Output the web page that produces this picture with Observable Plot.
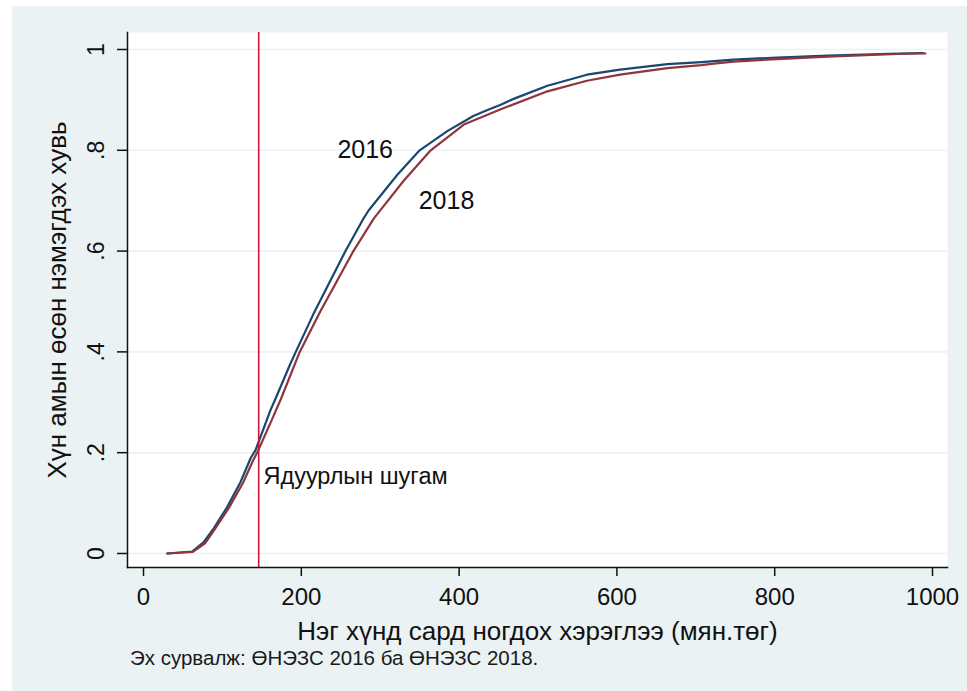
<!DOCTYPE html>
<html><head><meta charset="utf-8">
<script src="https://cdn.jsdelivr.net/npm/d3@7"></script>
<script src="https://cdn.jsdelivr.net/npm/@observablehq/plot@0.6"></script>
<style>
html,body{margin:0;padding:0;background:#fff;}
#panel{position:absolute;left:12px;top:6px;width:955px;height:685px;background:#eaf2f3;font-family:"Liberation Sans",Arial,sans-serif;}
#chart svg{display:block;}
#caption{padding-left:118px;font-size:20.5px;line-height:22px;color:#1a1a1a;white-space:nowrap;margin-top:-1px;}
</style></head><body>
<div id="panel"><div id="chart"></div><div id="caption"></div></div>
<script>
// Cumulative share of population by monthly consumption per person (thousand MNT)
const cons2016  = [30, 62, 76, 89, 106, 123, 136, 142, 161, 167, 186, 193, 215, 250, 256, 279, 285, 322, 350, 385, 418, 436, 452, 469, 512, 562, 604, 664, 707, 723, 748, 803, 867, 956, 988];
const share2016 = [0, 0.004, 0.022, 0.05, 0.092, 0.142, 0.19, 0.205, 0.285, 0.306, 0.376, 0.4, 0.474, 0.582, 0.6, 0.665, 0.68, 0.752, 0.8, 0.838, 0.868, 0.88, 0.89, 0.902, 0.928, 0.95, 0.96, 0.971, 0.975, 0.977, 0.98, 0.984, 0.988, 0.992, 0.993];
const cons2018  = [30, 62, 78, 91, 108, 126, 139, 144, 164, 174, 198, 224, 266, 292, 330, 364, 406, 452, 512, 562, 604, 664, 707, 723, 748, 803, 867, 956, 991];
const share2018 = [0, 0.003, 0.02, 0.05, 0.09, 0.14, 0.185, 0.2, 0.27, 0.306, 0.4, 0.48, 0.6, 0.665, 0.74, 0.8, 0.851, 0.881, 0.917, 0.938, 0.95, 0.963, 0.969, 0.972, 0.976, 0.981, 0.986, 0.991, 0.992];
const povertyLine = [146];
const seriesNames = ["2016", "2018"];
const seriesColors = ["#1a476f", "#90353b"];
const xTicks = [0, 200, 400, 600, 800, 1000];
const yTicks = [0, 0.2, 0.4, 0.6, 0.8, 1];
const yTickLabels = ["0", ".2", ".4", ".6", ".8", "1"];
const labelText = ["2016", "2018", "Ядуурлын шугам"];
const labelX = [281, 384, 152];
const labelY = [0.80, 0.70, 0.153];
const xTitle = "Нэг хүнд сард ногдох хэрэглээ (мян.төг)";
const yTitle = "Хүн амын өсөн нэмэгдэх хувь";
const captionText = "Эх сурвалж: ӨНЭЗС 2016 ба ӨНЭЗС 2018.";

const rows = [
  ...cons2016.map((c, i) => ({year: "2016", cons: c, share: share2016[i]})),
  ...cons2018.map((c, i) => ({year: "2018", cons: c, share: share2018[i]}))
];
const labels = labelText.map((t, i) => ({t, x: labelX[i], y: labelY[i], anchor: i === 2 ? "start" : "middle"}));

const chart = Plot.plot({
  width: 955, height: 642,
  marginLeft: 115, marginRight: 20, marginTop: 26, marginBottom: 81,
  style: {fontFamily: '"Liberation Sans", Arial, sans-serif', background: "transparent", color: "#111"},
  x: {domain: [-20.3, 1019], ticks: xTicks},
  y: {domain: [-0.0278, 1.0337], ticks: yTicks},
  color: {domain: seriesNames, range: seriesColors},
  marks: [
    Plot.frame({fill: "white", stroke: "none"}),
    Plot.gridY(yTicks, {stroke: "#eaf2f3", strokeOpacity: 1, strokeWidth: 1.6}),
    Plot.line(rows, {x: "cons", y: "share", z: "year", stroke: "year", strokeWidth: 2.2}),
    Plot.ruleX(povertyLine, {stroke: "#c8173f", strokeWidth: 1.6}),
    Plot.text(labels.filter(d => d.anchor === "middle"), {x: "x", y: "y", text: "t", fontSize: 25, fill: "#111", textAnchor: "middle"}),
    Plot.text(labels.filter(d => d.anchor === "start"), {x: "x", y: "y", text: "t", fontSize: 23.5, fill: "#111", textAnchor: "start"}),
    Plot.frame({anchor: "left", stroke: "#111", strokeWidth: 1.5}),
    Plot.frame({anchor: "bottom", stroke: "#111", strokeWidth: 1.5}),
    Plot.axisX(xTicks, {tickSize: 9, tickPadding: 11, fontSize: 24, stroke: "#111", strokeWidth: 1.5, tickFormat: d => String(d), label: null}),
    Plot.axisX({label: xTitle, labelAnchor: "center", labelOffset: 72, labelArrow: "none", ticks: [], fontSize: 26, tickSize: 0}),
    Plot.axisY(yTicks, {tickSize: 10, tickPadding: 14, fontSize: 23, tickRotate: -90, stroke: "#111", strokeWidth: 1.5,
      tickFormat: d => yTickLabels[yTicks.indexOf(d)], label: null}),
    Plot.axisY({label: yTitle, labelAnchor: "center", labelOffset: 80, labelArrow: "none", ticks: [], fontSize: 26, tickSize: 0})
  ]
});
document.getElementById("chart").appendChild(chart);
document.getElementById("caption").textContent = captionText;
</script>
</body></html>
